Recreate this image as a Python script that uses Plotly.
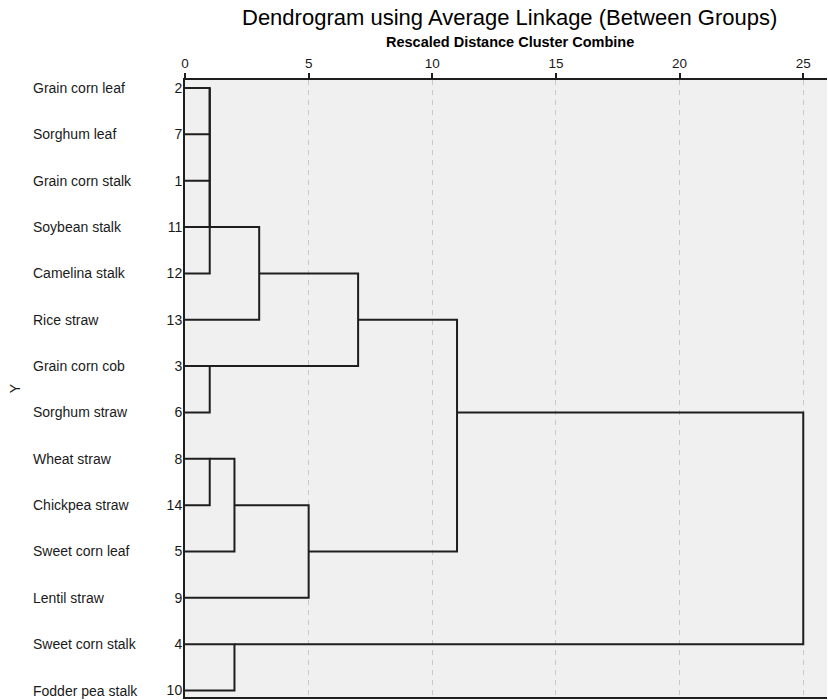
import math
import plotly.graph_objects as go

# Leaf order (top to bottom) with case numbers
names = ["Grain corn leaf", "Sorghum leaf", "Grain corn stalk", "Soybean stalk",
         "Camelina stalk", "Rice straw", "Grain corn cob", "Sorghum straw",
         "Wheat straw", "Chickpea straw", "Sweet corn leaf", "Lentil straw",
         "Sweet corn stalk", "Fodder pea stalk"]
cases = [2, 7, 1, 11, 12, 13, 3, 6, 8, 14, 5, 9, 4, 10]

# Agglomeration steps: (cluster a, cluster b, rescaled distance)
merge_a = [2, 2, 2, 2, 3, 8, 8, 4, 2, 8, 2, 2, 2]
merge_b = [7, 1, 11, 12, 6, 14, 5, 10, 13, 9, 3, 8, 4]
merge_h = [1.0, 1.0, 1.0, 1.0, 1.0, 1.0, 2.0, 2.0, 3.0, 5.0, 7.0, 11.0, 25.0]

x_ticks = [0, 5, 10, 15, 20, 25]

# cluster state: representative case -> (row position, height)
state = {c: (i, 0.0) for i, c in enumerate(cases)}
xs, ys = [], []
for a, b, h in zip(merge_a, merge_b, merge_h):
    ya, xa = state[a]
    yb, xb = state[b]
    xs += [xa, h, h, xb, None]
    ys += [ya, ya, yb, yb, None]
    state[a] = (math.floor((ya + yb) / 2), h)
    del state[b]

n = len(cases)
rows = list(range(n))

fig = go.Figure()
fig.add_trace(go.Scatter(
    x=xs, y=ys, mode="lines",
    line=dict(color="#1e1e1e", width=2),
    hoverinfo="skip", showlegend=False,
))

FONT = "Liberation Sans, Arial, sans-serif"

annotations = []
for r, nm in zip(rows, names):
    annotations.append(dict(
        text=nm, xref="paper", yref="y", x=-0.2399, y=r,
        xanchor="left", yanchor="middle", showarrow=False,
        font=dict(family=FONT, size=14, color="#1a1a1a"),
    ))
annotations.append(dict(
    text="Dendrogram using Average Linkage (Between Groups)",
    xref="paper", yref="paper", x=0.506, y=1.1013,
    xanchor="center", yanchor="middle", showarrow=False,
    font=dict(family=FONT, size=22, color="#000000"),
))
annotations.append(dict(
    text="<b>Rescaled Distance Cluster Combine</b>",
    xref="paper", yref="paper", x=0.506, y=1.0616,
    xanchor="center", yanchor="middle", showarrow=False,
    font=dict(family=FONT, size=14.5, color="#000000"),
))
annotations.append(dict(
    text="Y", textangle=-90,
    xref="paper", yref="paper", x=-0.265, y=0.5,
    xanchor="center", yanchor="middle", showarrow=False,
    font=dict(family=FONT, size=14, color="#1a1a1a"),
))

fig.update_layout(
    width=828, height=700,
    margin=dict(l=185, r=1, t=80, b=3),
    paper_bgcolor="white", plot_bgcolor="#f0f0f0",
    annotations=annotations,
    font=dict(family=FONT, size=13, color="#1a1a1a"),
)
fig.update_xaxes(
    side="top", range=[0, 25.96], tickvals=x_ticks,
    ticks="outside", ticklen=5, tickwidth=1.5, tickcolor="#1e1e1e",
    showline=True, linecolor="#1e1e1e", linewidth=1.5, mirror=True,
    showgrid=True, gridcolor="#c8c8c8", gridwidth=1, griddash="5px,5px",
    zeroline=False, tickfont=dict(family=FONT, size=13.5, color="#1a1a1a"),
)
fig.update_yaxes(
    range=[13.14, -0.173], tickvals=rows, ticktext=[str(c) for c in cases],
    ticks="", showline=True, linecolor="#1e1e1e", linewidth=2,
    showgrid=False, zeroline=False, ticklabelstandoff=-2,
    tickfont=dict(family=FONT, size=14, color="#1a1a1a"),
)

fig.write_html("out.html")
